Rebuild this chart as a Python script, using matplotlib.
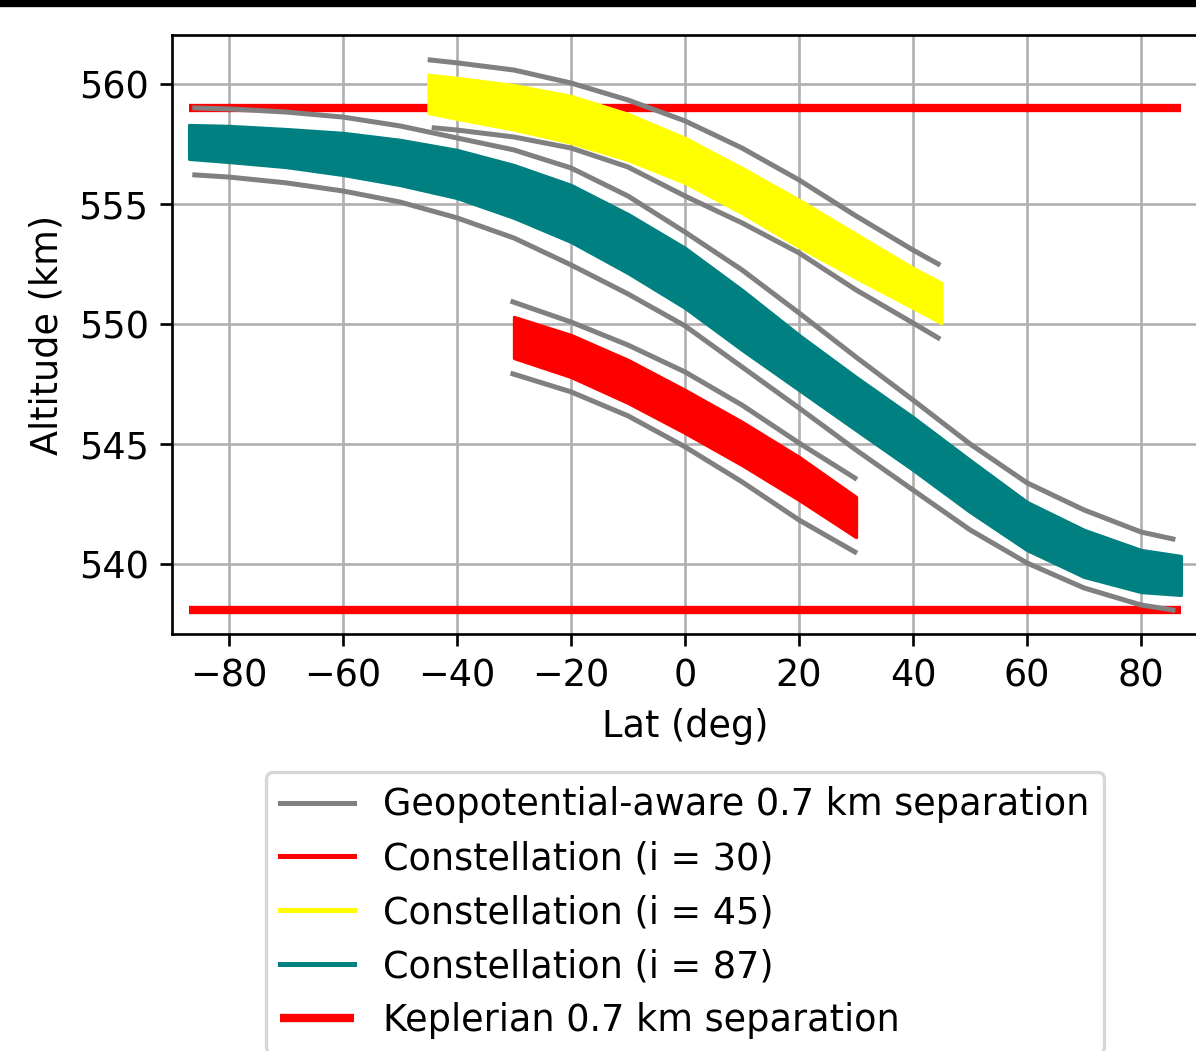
import numpy as np
import matplotlib.pyplot as plt
from matplotlib.lines import Line2D
from matplotlib.patches import Rectangle

plt.rcParams['font.size'] = 11

# constellation bands (upper / lower altitude edge, km) vs latitude (deg)
lat87 = [-87, -80, -70, -60, -50, -40, -30, -20, -10, 0, 10, 20, 30, 40, 50, 60, 70, 80, 87]
top87 = [558.29, 558.25, 558.12, 557.96, 557.67, 557.25, 556.62, 555.79, 554.58, 553.17,
         551.42, 549.54, 547.79, 546.12, 544.33, 542.58, 541.42, 540.58, 540.33]
bot87 = [556.88, 556.75, 556.54, 556.21, 555.79, 555.25, 554.42, 553.42, 552.12, 550.67,
         548.92, 547.25, 545.58, 543.92, 542.17, 540.58, 539.46, 538.83, 538.71]

lat45 = [-45, -40, -30, -20, -10, 0, 10, 20, 30, 40, 45]
top45 = [560.38, 560.25, 559.95, 559.5, 558.75, 557.75, 556.5, 555.17, 553.75, 552.33, 551.71]
bot45 = [558.79, 558.55, 558.1, 557.55, 556.83, 555.88, 554.62, 553.21, 551.92, 550.67, 550.04]

lat30 = [-30, -20, -10, 0, 10, 20, 30]
top30 = [550.29, 549.54, 548.5, 547.25, 545.92, 544.46, 542.79]
bot30 = [548.58, 547.79, 546.71, 545.46, 544.12, 542.67, 541.12]

# geopotential-aware separation bounds
g45_up_lat = [-44.7, -40, -30, -20, -10, 0, 10, 20, 30, 40, 44.4]
g45_up = [561.0, 560.88, 560.58, 560.04, 559.33, 558.46, 557.33, 556.0, 554.5, 553.08, 552.5]
g45_lo_lat = [-44, -40, -30, -20, -10, 0, 10, 20, 30, 40, 44.4]
g45_lo = [558.17, 558.08, 557.79, 557.33, 556.54, 555.33, 554.21, 552.96, 551.42, 550.04, 549.42]

g87_lat = [-86, -80, -70, -60, -50, -40, -30, -20, -10, 0, 10, 20, 30, 40, 50, 60, 70, 80, 85.6]
g87_up = [559.0, 558.96, 558.83, 558.62, 558.25, 557.75, 557.25, 556.5, 555.33, 553.83,
          552.25, 550.46, 548.62, 546.83, 545.0, 543.38, 542.25, 541.33, 541.04]
g87_lo = [556.21, 556.12, 555.88, 555.54, 555.08, 554.42, 553.58, 552.46, 551.25, 549.92,
          548.21, 546.5, 544.75, 543.08, 541.42, 540.04, 539.0, 538.29, 538.08]

g30_lat = [-30.2, -20, -10, 0, 10, 20, 29.8]
g30_up = [550.92, 550.08, 549.12, 548.0, 546.62, 545.04, 543.58]
g30_lo = [547.92, 547.17, 546.17, 544.88, 543.42, 541.83, 540.5]

# keplerian separation limits
kep_alt = [559.0, 538.1]
kep_lat = (-87, 87)

fig = plt.figure(figsize=(1196 / 240, 1051 / 240), dpi=240)
ax = fig.add_axes([172 / 1196, 1 - 634 / 1051, 1026 / 1196, 599 / 1051])

ax.hlines(kep_alt, kep_lat[0], kep_lat[1], colors='red', linewidth=2.5, zorder=2)

ax.fill_between(lat87, bot87, top87, color='teal', lw=1, joinstyle='round', zorder=3)
ax.fill_between(lat45, bot45, top45, color='yellow', lw=1, joinstyle='round', zorder=3)
ax.fill_between(lat30, bot30, top30, color='red', lw=1, joinstyle='round', zorder=3)

for la, al in [(g45_up_lat, g45_up), (g45_lo_lat, g45_lo), (g87_lat, g87_up),
               (g87_lat, g87_lo), (g30_lat, g30_up), (g30_lat, g30_lo)]:
    ax.plot(la, al, color='gray', lw=1.5, zorder=4)

ax.set_xlim(-90, 90)
ax.set_ylim(537.08, 562.04)
ax.set_xticks([-80, -60, -40, -20, 0, 20, 40, 60, 80])
ax.set_yticks([540, 545, 550, 555, 560])
ax.grid(True)
ax.set_axisbelow(True)
ax.set_xlabel('Lat (deg)')
ax.set_ylabel('Altitude (km)')

handles = [Line2D([], [], color='gray', lw=1.5),
           Line2D([], [], color='red', lw=1.5),
           Line2D([], [], color='yellow', lw=1.5),
           Line2D([], [], color='teal', lw=1.5),
           ax.collections[0]]
labels = ['Geopotential-aware 0.7 km separation', 'Constellation (i = 30)',
          'Constellation (i = 45)', 'Constellation (i = 87)', 'Keplerian 0.7 km separation']
ax.legend(handles, labels, loc='upper center', bbox_to_anchor=(0.5, -0.23),
          borderaxespad=0, labelspacing=0.46)

fig.patches.append(Rectangle((0, 1 - 5 / 1051), 1, 5 / 1051, transform=fig.transFigure,
                             color='black', zorder=10))

fig.savefig('out.png', dpi=240)
